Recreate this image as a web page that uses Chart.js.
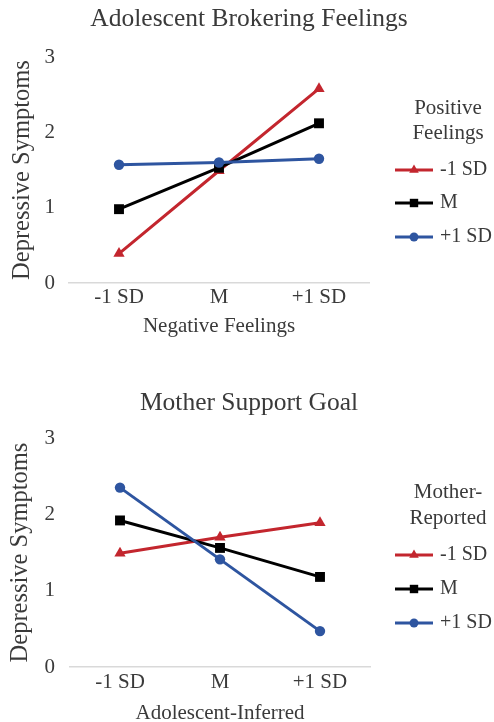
<!DOCTYPE html>
<html>
<head>
<meta charset="utf-8">
<script src="https://cdn.jsdelivr.net/npm/chart.js@4/dist/chart.umd.min.js"></script>
<style>
  body { margin: 0; background: #fff; }
  canvas { display: block; }
</style>
</head>
<body>
<canvas id="top" width="494" height="339"></canvas>
<canvas id="bottom" width="494" height="383"></canvas>
<script>
// values
const categories = ['-1 SD', 'M', '+1 SD'];
const seriesNames = ['-1 SD', 'M', '+1 SD'];

const brokerLow = [0.39, 1.49, 2.58];
const brokerMid = [0.98, 1.53, 2.12];
const brokerHigh = [1.57, 1.60, 1.65];

const motherLow = [1.49, 1.70, 1.89];
const motherMid = [1.92, 1.56, 1.18];
const motherHigh = [2.35, 1.41, 0.47];

const yTicks = [0, 1, 2, 3];

const RED = '#C3262E';
const BLACK = '#000000';
const BLUE = '#2E55A0';
const TEXT = '#3a3a3a';
const SERIF = '"Liberation Serif", "Times New Roman", serif';

const styles = [
    {color: RED, pointStyle: 'triangle', radius: 6.5, order: 3},
    {color: BLACK, pointStyle: 'rect', radius: 7, order: 2},
    {color: BLUE, pointStyle: 'circle', radius: 5.2, order: 1}
];

function makeDatasets(rows)
{
    return rows.map((vals, i) => ({
        label: seriesNames[i],
        data: vals,
        borderColor: styles[i].color,
        backgroundColor: styles[i].color,
        pointBackgroundColor: styles[i].color,
        pointBorderColor: styles[i].color,
        pointBorderWidth: 0,
        pointStyle: styles[i].pointStyle,
        pointRadius: styles[i].radius,
        pointHoverRadius: styles[i].radius,
        borderWidth: 3,
        tension: 0,
        order: styles[i].order
    }));
}

// chart title centred on the whole figure + legend at the right side, line with marker like excel
const sideLegend = {
    id: 'sideLegend',
    afterDraw(chart, args, opts) {
        const ctx = chart.ctx;
        ctx.save();
        ctx.fillStyle = TEXT;
        ctx.textAlign = 'center';
        ctx.textBaseline = 'middle';
        ctx.font = '25.5px ' + SERIF;
        ctx.fillText(opts.chartTitle, opts.chartTitleX, opts.chartTitleY);

        ctx.font = '21px ' + SERIF;
        opts.title.forEach((t, i) => ctx.fillText(t, opts.titleX, opts.titleY[i]));

        chart.data.datasets.forEach((ds, i) => {
            const y = opts.itemY[i];
            ctx.strokeStyle = ds.borderColor;
            ctx.fillStyle = ds.borderColor;
            ctx.lineWidth = 3;
            ctx.beginPath();
            ctx.moveTo(opts.lineX[0], y);
            ctx.lineTo(opts.lineX[1], y);
            ctx.stroke();
            const mx = (opts.lineX[0] + opts.lineX[1]) / 2;
            if (Chart.helpers && Chart.helpers.drawPoint) {
                Chart.helpers.drawPoint(ctx, {pointStyle: ds.pointStyle, radius: ds.pointRadius * 0.85, rotation: 0, borderWidth: 0}, mx, y);
            } else {
                ctx.beginPath();
                ctx.arc(mx, y, 4.5, 0, Math.PI * 2);
                ctx.fill();
            }
            ctx.fillStyle = TEXT;
            ctx.font = '20px ' + SERIF;
            ctx.textAlign = 'left';
            ctx.fillText(ds.label, opts.textX, y);
        });
        ctx.restore();
    }
};

function makeChart(id, p)
{
    const ctx = document.getElementById(id);
    return new Chart(ctx, {
        type: 'line',
        data: {
            labels: categories,
            datasets: makeDatasets(p.rows)
        },
        plugins: [sideLegend],
        options: {
            responsive: false,
            animation: false,
            layout: {
                padding: {left: 0, right: 494 - p.right, top: p.top, bottom: 0}
            },
            plugins: {
                legend: {display: false},
                tooltip: {enabled: false},
                title: {display: false},
                sideLegend: p.legend
            },
            scales: {
                x: {
                    offset: true,
                    grid: {display: false, drawTicks: false},
                    border: {display: true, color: '#d9d9d9', width: 1.5},
                    ticks: {color: TEXT, font: {family: SERIF, size: 21}, padding: p.tickPad},
                    title: {
                        display: true,
                        text: p.xTitle,
                        color: TEXT,
                        font: {family: SERIF, size: 21},
                        padding: {top: 0, bottom: p.xTitlePad}
                    },
                    afterFit(scale) { scale.height = ctx.height - p.bottom; }
                },
                y: {
                    min: 0,
                    max: 3,
                    afterBuildTicks(scale) { scale.ticks = yTicks.map(v => ({value: v})); },
                    grid: {display: false, drawTicks: false},
                    border: {display: false},
                    ticks: {color: TEXT, font: {family: SERIF, size: 21}, padding: p.left - 55},
                    title: {
                        display: true,
                        text: 'Depressive Symptoms',
                        color: TEXT,
                        font: {family: SERIF, size: 24.5},
                        padding: {top: p.yTitlePad, bottom: 0}
                    },
                    afterFit(scale) { scale.width = p.left; }
                }
            }
        }
    });
}

makeChart('top', {
    rows: [brokerLow, brokerMid, brokerHigh],
    xTitle: 'Negative Feelings',
    left: 69, right: 369, top: 57, bottom: 283,
    tickPad: 2, xTitlePad: -0.3, yTitlePad: 7.6,
    legend: {chartTitle: 'Adolescent Brokering Feelings', chartTitleX: 249, chartTitleY: 19,
             title: ['Positive', 'Feelings'], titleX: 448, titleY: [108, 133],
             lineX: [395, 433], textX: 440, itemY: [170, 203, 237]}
});

makeChart('bottom', {
    rows: [motherLow, motherMid, motherHigh],
    xTitle: 'Adolescent-Inferred',
    left: 70, right: 370, top: 99, bottom: 328,
    tickPad: 3, xTitlePad: -3.6, yTitlePad: 5.6,
    legend: {chartTitle: 'Mother Support Goal', chartTitleX: 249, chartTitleY: 64,
             title: ['Mother-', 'Reported'], titleX: 448, titleY: [153, 179],
             lineX: [395, 433], textX: 440, itemY: [216, 250, 284]}
});
</script>
</body>
</html>
